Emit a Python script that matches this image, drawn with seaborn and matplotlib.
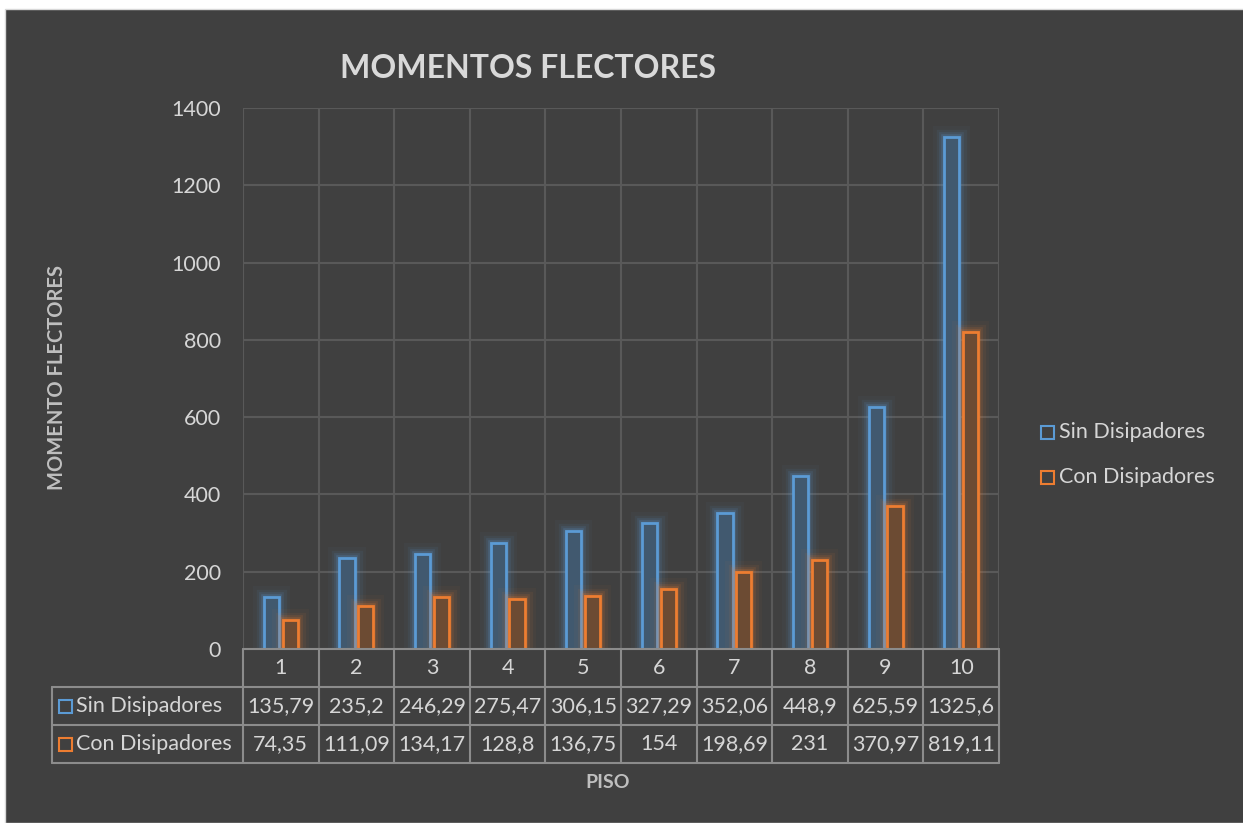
import matplotlib
matplotlib.use("Agg")
import matplotlib.pyplot as plt
import matplotlib.patheffects as pe
from matplotlib.patches import Rectangle
import numpy as np
import pandas as pd
import seaborn as sns

# Data
pisos = ["1", "2", "3", "4", "5", "6", "7", "8", "9", "10"]
sin_disipadores = [135.79, 235.2, 246.29, 275.47, 306.15, 327.29, 352.06, 448.9, 625.59, 1325.6]
con_disipadores = [74.35, 111.09, 134.17, 128.8, 136.75, 154, 198.69, 231, 370.97, 819.11]
series_names = ["Sin Disipadores", "Con Disipadores"]

BG = "#404040"
GRID = "#595959"
TABLE_LINE = "#8c8c8c"
TEXT = "#d6d6d6"
BLUE = "#5b9bd5"
ORANGE = "#ed7d31"
BLUE_FILL = "#41596f"
ORANGE_FILL = "#6c4b33"
FS = 15.5

sns.set_theme(style="dark")
plt.rcParams["font.family"] = ["Lato", "DejaVu Sans"]

df = pd.DataFrame({
    "Piso": pisos * 2,
    "Valor": sin_disipadores + con_disipadores,
    "Serie": [series_names[0]] * len(pisos) + [series_names[1]] * len(pisos),
})

W, H = 1243, 823
fig = plt.figure(figsize=(W / 100, H / 100), dpi=100)
fig.patch.set_facecolor("white")
# chart background panel
fig.patches.append(Rectangle((5 / W, 0), 1, 1 - 9 / H, transform=fig.transFigure,
                             facecolor=BG, edgecolor="#d8d8d8", linewidth=1, zorder=-10))

left, right, top, bottom = 243, 999, 108, 649
ax = fig.add_axes([left / W, 1 - bottom / H, (right - left) / W, (bottom - top) / H])
ax.set_facecolor(BG)
ax.set_zorder(1)

sns.barplot(data=df, x="Piso", y="Valor", hue="Serie", order=pisos,
            hue_order=series_names, palette=[BLUE, ORANGE],
            width=0.5, gap=0.2, dodge=True, legend=False, ax=ax, zorder=3)

n = len(pisos)
for i, patch in enumerate(ax.patches):
    edge, fill = (BLUE, BLUE_FILL) if i < n else (ORANGE, ORANGE_FILL)
    patch.set_facecolor(fill)
    patch.set_edgecolor(edge)
    patch.set_linewidth(2)
    patch.set_path_effects([
        pe.Stroke(linewidth=16, foreground=edge, alpha=0.04),
        pe.Stroke(linewidth=11, foreground=edge, alpha=0.07),
        pe.Stroke(linewidth=7, foreground=edge, alpha=0.12),
        pe.Stroke(linewidth=4, foreground=edge, alpha=0.2),
        pe.Normal(),
    ])

ax.set_xlim(-0.5, n - 0.5)
ax.set_ylim(0, 1400)
ax.set_yticks(np.arange(0, 1401, 200))
ax.tick_params(axis="y", colors=TEXT, labelsize=FS, length=0, pad=16)
ax.set_xticks([])
for lab in ax.get_yticklabels():
    lab.set_color(TEXT)

# grid: horizontal at ticks, vertical at category boundaries
for yv in np.arange(200, 1401, 200):
    ax.axhline(yv, color=GRID, linewidth=1.5, zorder=1)
for xv in np.arange(-0.5, n - 0.4, 1):
    ax.axvline(xv, color=GRID, linewidth=1.5, zorder=1)
for s in ax.spines.values():
    s.set_visible(False)
ax.set_xlabel("")
ax.set_ylabel("")

# Data table below the plot
row_h = 38 / (bottom - top)  # in axes fraction
tbl_left = (52 - left) / (right - left)
trans = ax.get_xaxis_transform()
line_kw = dict(color=TABLE_LINE, linewidth=1.5, clip_on=False, zorder=4)

# horizontal lines
ax.plot([-0.5, n - 0.5], [0, 0], transform=trans, **line_kw)
ax.plot([tbl_left, 1], [-row_h, -row_h], transform=ax.transAxes, **line_kw)
ax.plot([tbl_left, 1], [-2 * row_h, -2 * row_h], transform=ax.transAxes, **line_kw)
ax.plot([tbl_left, 1], [-3 * row_h, -3 * row_h], transform=ax.transAxes, **line_kw)
# vertical lines
for xv in np.arange(-0.5, n - 0.4, 1):
    ax.plot([xv, xv], [0, -3 * row_h], transform=trans, **line_kw)
ax.plot([tbl_left, tbl_left], [-row_h, -3 * row_h], transform=ax.transAxes, **line_kw)

for i, p in enumerate(pisos):
    ax.text(i, -0.5 * row_h, p, transform=trans, ha="center", va="center",
            color=TEXT, fontsize=FS)
    ax.text(i, -1.5 * row_h, f"{sin_disipadores[i]:g}".replace(".", ","),
            transform=trans, ha="center", va="center", color=TEXT, fontsize=FS)
    ax.text(i, -2.5 * row_h, f"{con_disipadores[i]:g}".replace(".", ","),
            transform=trans, ha="center", va="center", color=TEXT, fontsize=FS)

# row headers with legend keys
key_w = 13 / (right - left)
key_h = 13 / (bottom - top)
for r, (name, col) in enumerate(zip(series_names, [BLUE, ORANGE])):
    yc = -(r + 1.5) * row_h
    kx = (59 - left) / (right - left)
    ax.add_patch(Rectangle((kx, yc - key_h / 2), key_w, key_h, transform=ax.transAxes,
                           facecolor="none", edgecolor=col, linewidth=1.5, clip_on=False))
    ax.text(kx + key_w + 4 / (right - left), yc, name, transform=ax.transAxes,
            ha="left", va="center", color=TEXT, fontsize=FS)

# Legend on the right
for r, (name, col) in enumerate(zip(series_names, [BLUE, ORANGE])):
    yc = 1 - (432 + 45 * r) / H
    fig.patches.append(Rectangle((1041 / W, yc - 6.5 / H), 13 / W, 13 / H,
                                 transform=fig.transFigure, facecolor="none",
                                 edgecolor=col, linewidth=1.5, zorder=2))
    fig.text(1059 / W, yc, name, ha="left", va="center", color=TEXT, fontsize=FS)

# Titles
fig.text(528 / W, 1 - 68 / H, "MOMENTOS FLECTORES", ha="center", va="center",
         color="#d9d9d9", fontsize=23, fontweight="bold")
fig.text(57 / W, 1 - 378 / H, "MOMENTO FLECTORES", ha="center", va="center",
         rotation=90, color="#bfbfbf", fontsize=14.5, fontweight="bold")
fig.text(608 / W, 1 - 782 / H, "PISO", ha="center", va="center",
         color="#bfbfbf", fontsize=14, fontweight="bold")

fig.savefig("out.png", dpi=100, facecolor=fig.get_facecolor())
